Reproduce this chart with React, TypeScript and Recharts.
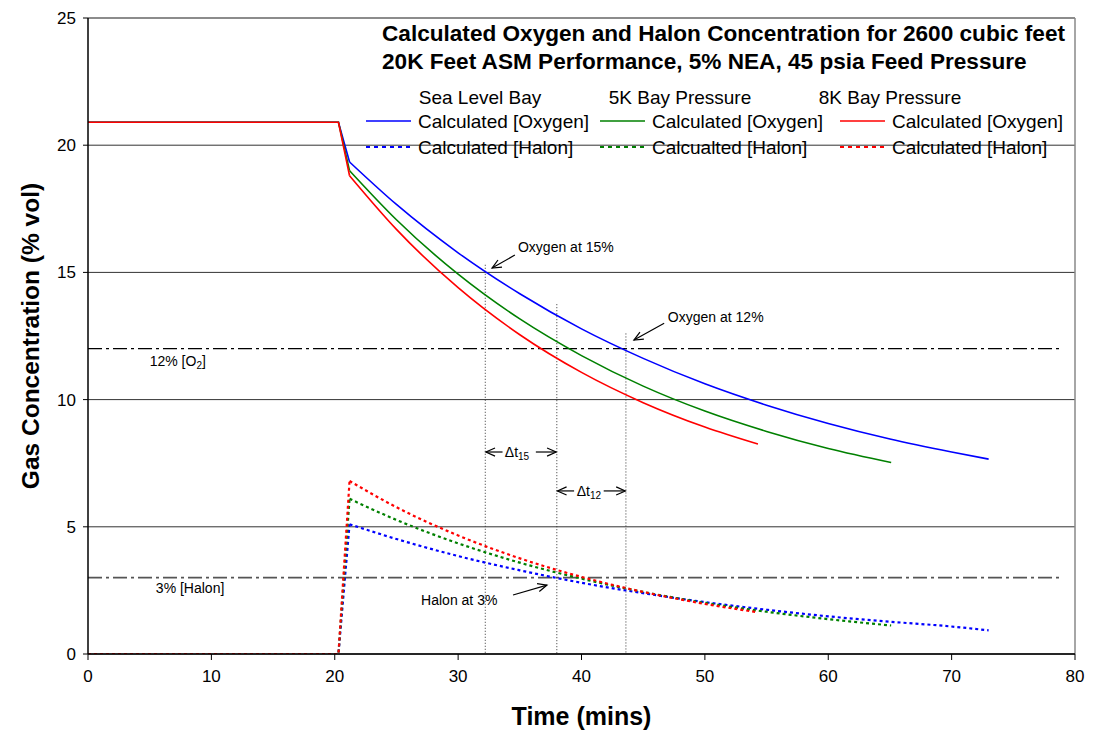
import React from 'react';
import { LineChart, Line, XAxis, YAxis, CartesianGrid, ReferenceLine, ReferenceDot } from 'recharts';

const FONT = '"Liberation Sans", Arial, Helvetica, sans-serif';
const BLUE = '#0000FF';
const GREEN = '#008000';
const RED = '#FF0000';

const xTicks = [0, 10, 20, 30, 40, 50, 60, 70, 80];
const yTicks = [0, 5, 10, 15, 20, 25];

// start-up segment (before and during the initial drop)
const riseTimes = [0, 20.3, 21.2];
const seaLevelOxygenRise = [20.9, 20.9, 19.34];
const bay5kOxygenRise = [20.9, 20.9, 19.0];
const bay8kOxygenRise = [20.9, 20.9, 18.8];
const seaLevelHalonRise = [0, 0, 5.1];
const bay5kHalonRise = [0, 0, 6.1];
const bay8kHalonRise = [0, 0, 6.8];

// decay segment
const seaLevelTimes = [21.2, 25, 30, 35, 40, 45, 50, 55, 60, 65, 70, 73];
const seaLevelOxygen = [19.34, 17.67, 15.77, 14.16, 12.78, 11.62, 10.62, 9.78, 9.06, 8.45, 7.94, 7.66];
const seaLevelHalon = [5.1, 4.52, 3.85, 3.29, 2.8, 2.39, 2.04, 1.74, 1.48, 1.27, 1.08, 0.93];

const bay5kTimes = [21.2, 25, 30, 35, 40, 45, 50, 55, 60, 65.1];
const bay5kOxygen = [19.0, 17.07, 14.93, 13.17, 11.73, 10.53, 9.55, 8.75, 8.08, 7.53];
const bay5kHalon = [6.1, 5.27, 4.35, 3.59, 2.96, 2.44, 2.01, 1.66, 1.37, 1.12];

const bay8kTimes = [21.2, 25, 30, 35, 40, 45, 50, 54.3];
const bay8kOxygen = [18.8, 16.69, 14.4, 12.55, 11.07, 9.88, 8.92, 8.25];
const bay8kHalon = [6.8, 5.77, 4.66, 3.76, 3.03, 2.44, 1.97, 1.64];

// threshold levels and crossing times
const oxygenLimit = 12;
const halonLimit = 3;
const crossing15Time = 32.2;
const crossing15Top = 15.3;
const halonCrossTime = 38;
const halonCrossTop = 13.75;
const crossing12Time = 43.6;
const crossing12Top = 12.6;

const pts = (times: number[], values: number[]) => times.map((t, i) => ({ t, v: values[i] }));

const seriesList = [
  { key: 'slO2r', data: pts(riseTimes, seaLevelOxygenRise), color: BLUE, dash: undefined, type: 'linear' },
  { key: 'slO2', data: pts(seaLevelTimes, seaLevelOxygen), color: BLUE, dash: undefined, type: 'monotone' },
  { key: 'slHr', data: pts(riseTimes, seaLevelHalonRise), color: BLUE, dash: '3 3', type: 'linear' },
  { key: 'slH', data: pts(seaLevelTimes, seaLevelHalon), color: BLUE, dash: '3 3', type: 'monotone' },
  { key: 'k5O2r', data: pts(riseTimes, bay5kOxygenRise), color: GREEN, dash: undefined, type: 'linear' },
  { key: 'k5O2', data: pts(bay5kTimes, bay5kOxygen), color: GREEN, dash: undefined, type: 'monotone' },
  { key: 'k5Hr', data: pts(riseTimes, bay5kHalonRise), color: GREEN, dash: '3 3', type: 'linear' },
  { key: 'k5H', data: pts(bay5kTimes, bay5kHalon), color: GREEN, dash: '3 3', type: 'monotone' },
  { key: 'k8O2r', data: pts(riseTimes, bay8kOxygenRise), color: RED, dash: undefined, type: 'linear' },
  { key: 'k8O2', data: pts(bay8kTimes, bay8kOxygen), color: RED, dash: undefined, type: 'monotone' },
  { key: 'k8Hr', data: pts(riseTimes, bay8kHalonRise), color: RED, dash: '3 3', type: 'linear' },
  { key: 'k8H', data: pts(bay8kTimes, bay8kHalon), color: RED, dash: '3 3', type: 'monotone' },
];

const Arrow = (props: any) => {
  const { x1, y1, x2, y2 } = props;
  const ang = Math.atan2(y2 - y1, x2 - x1);
  const len = 10;
  const spread = 0.42;
  const ax = x2 - len * Math.cos(ang - spread);
  const ay = y2 - len * Math.sin(ang - spread);
  const bx = x2 - len * Math.cos(ang + spread);
  const by = y2 - len * Math.sin(ang + spread);
  return (
    <g>
      <line x1={x1} y1={y1} x2={x2} y2={y2} stroke="#000" strokeWidth={1.2} />
      <polyline points={`${ax},${ay} ${x2},${y2} ${bx},${by}`} fill="none" stroke="#000" strokeWidth={1.2} />
    </g>
  );
};

const arrows = [
  { from: { x: 34.6, y: 15.68 }, to: { x: 32.75, y: 15.17 } },
  { from: { x: 46.7, y: 13.0 }, to: { x: 44.25, y: 12.34 } },
  { from: { x: 34.45, y: 2.32 }, to: { x: 37.2, y: 2.71 } },
  { from: { x: 33.6, y: 7.94 }, to: { x: 32.25, y: 7.94 } },
  { from: { x: 36.3, y: 7.94 }, to: { x: 37.95, y: 7.94 } },
  { from: { x: 39.4, y: 6.41 }, to: { x: 38.05, y: 6.41 } },
  { from: { x: 41.8, y: 6.41 }, to: { x: 43.55, y: 6.41 } },
];

const textStyle = { fontFamily: FONT, fontSize: 14, fill: '#000' };

const notes: { x: number; y: number; render: (cx: number, cy: number) => React.ReactNode }[] = [
  {
    x: 34.85, y: 15.98,
    render: (cx, cy) => <text x={cx} y={cy} dominantBaseline="central" style={textStyle}>Oxygen at 15%</text>,
  },
  {
    x: 47.0, y: 13.25,
    render: (cx, cy) => <text x={cx} y={cy} dominantBaseline="central" style={textStyle}>Oxygen at 12%</text>,
  },
  {
    x: 27.0, y: 2.12,
    render: (cx, cy) => <text x={cx} y={cy} dominantBaseline="central" style={textStyle}>Halon at 3%</text>,
  },
  {
    x: 5.0, y: 11.52,
    render: (cx, cy) => (
      <text x={cx} y={cy} dominantBaseline="central" style={textStyle}>
        12% [O<tspan dy={4} fontSize={10}>2</tspan><tspan dy={-4}>]</tspan>
      </text>
    ),
  },
  {
    x: 5.5, y: 2.6,
    render: (cx, cy) => <text x={cx} y={cy} dominantBaseline="central" style={textStyle}>3% [Halon]</text>,
  },
  {
    x: 34.77, y: 7.94,
    render: (cx, cy) => (
      <text x={cx} y={cy} textAnchor="middle" dominantBaseline="central" style={textStyle}>
        Δt<tspan dy={4} fontSize={10}>15</tspan>
      </text>
    ),
  },
  {
    x: 40.6, y: 6.41,
    render: (cx, cy) => (
      <text x={cx} y={cy} textAnchor="middle" dominantBaseline="central" style={textStyle}>
        Δt<tspan dy={4} fontSize={10}>12</tspan>
      </text>
    ),
  },
];

const legendColumns = [
  { header: 'Sea Level Bay', oxygen: 'Calculated [Oxygen]', halon: 'Calculated [Halon]', color: BLUE },
  { header: '5K Bay Pressure', oxygen: 'Calculated [Oxygen]', halon: 'Calcualted [Halon]', color: GREEN },
  { header: '8K Bay Pressure', oxygen: 'Calculated [Oxygen]', halon: 'Calculated [Halon]', color: RED },
];
const legendColumnX = [366, 600, 840];
const legendHeaderX = [480, 680, 890];

const titleLines = [
  'Calculated Oxygen and Halon Concentration for 2600 cubic feet',
  '20K Feet ASM Performance, 5% NEA, 45 psia Feed Pressure',
];

const Overlay = () => (
  <svg width={1096} height={730} style={{ position: 'absolute', left: 0, top: 0, pointerEvents: 'none' }}>
    {titleLines.map((s, i) => (
      <text key={i} x={382} y={33 + i * 28} dominantBaseline="central"
        style={{ fontFamily: FONT, fontSize: 22.6, fontWeight: 'bold', fill: '#000' }}>{s}</text>
    ))}
    {legendColumns.map((c, i) => (
      <g key={i} style={{ fontFamily: FONT, fontSize: 19, fill: '#000' }}>
        <text x={legendHeaderX[i]} y={97} textAnchor="middle" dominantBaseline="central">{c.header}</text>
        <line x1={legendColumnX[i]} x2={legendColumnX[i] + 45} y1={121} y2={121} stroke={c.color} strokeWidth={1.5} />
        <text x={legendColumnX[i] + 52} y={121} dominantBaseline="central">{c.oxygen}</text>
        <line x1={legendColumnX[i]} x2={legendColumnX[i] + 45} y1={147} y2={147} stroke={c.color} strokeWidth={2} strokeDasharray="4 4" />
        <text x={legendColumnX[i] + 52} y={147} dominantBaseline="central">{c.halon}</text>
      </g>
    ))}
  </svg>
);

export default function App() {
  return (
    <div style={{ position: 'absolute', left: 0, top: 0, width: 1096, height: 730, background: '#fff' }}>
      <LineChart width={1096} height={730} margin={{ top: 18, right: 21, bottom: 36, left: 0 }}>
        <CartesianGrid horizontal vertical={false} stroke="#333" strokeWidth={1} />
        <XAxis
          type="number"
          dataKey="t"
          domain={[0, 80]}
          ticks={xTicks}
          allowDataOverflow
          height={40}
          tickSize={6}
          tickMargin={10}
          axisLine={{ stroke: '#000', strokeWidth: 1.5 }}
          tickLine={{ stroke: '#000' }}
          tick={{ fill: '#000', fontSize: 17, fontFamily: FONT }}
          label={{
            content: (p: any) => {
              const vb = p.viewBox || { x: 88, y: 654, width: 987, height: 40 };
              return (
                <text x={vb.x + vb.width / 2} y={vb.y + 71} textAnchor="middle"
                  style={{ fontFamily: FONT, fontSize: 25, fontWeight: 'bold', fill: '#000' }}>Time (mins)</text>
              );
            },
          }}
        />
        <YAxis
          type="number"
          domain={[0, 25]}
          ticks={yTicks}
          allowDataOverflow
          width={88}
          tickSize={5}
          tickMargin={7}
          axisLine={{ stroke: '#000', strokeWidth: 1.5 }}
          tickLine={{ stroke: '#000' }}
          tick={{ fill: '#000', fontSize: 17, fontFamily: FONT }}
          label={{
            content: (p: any) => {
              const vb = p.viewBox || { x: 0, y: 18, width: 88, height: 636 };
              const cx = vb.x + 30;
              const cy = vb.y + vb.height / 2;
              return (
                <text x={cx} y={cy} transform={`rotate(-90, ${cx}, ${cy})`} textAnchor="middle" dominantBaseline="central"
                  style={{ fontFamily: FONT, fontSize: 24.5, fontWeight: 'bold', fill: '#000' }}>Gas Concentration (% vol)</text>
              );
            },
          }}
        />
        <ReferenceLine y={25} stroke="#888" strokeWidth={1.5} />
        <ReferenceLine x={80} stroke="#888" strokeWidth={1.5} />
        <ReferenceLine segment={[{ x: 0, y: oxygenLimit }, { x: 79, y: oxygenLimit }]} stroke="#000" strokeWidth={1.2} strokeDasharray="14 4 3 4" />
        <ReferenceLine segment={[{ x: 0, y: halonLimit }, { x: 79, y: halonLimit }]} stroke="#555" strokeWidth={1.8} strokeDasharray="14 4 3 4" />
        <ReferenceLine segment={[{ x: crossing15Time, y: crossing15Top }, { x: crossing15Time, y: 0 }]} stroke="#333" strokeWidth={1} strokeDasharray="1 2" />
        <ReferenceLine segment={[{ x: halonCrossTime, y: halonCrossTop }, { x: halonCrossTime, y: 0 }]} stroke="#333" strokeWidth={1} strokeDasharray="1 2" />
        <ReferenceLine segment={[{ x: crossing12Time, y: crossing12Top }, { x: crossing12Time, y: 0 }]} stroke="#333" strokeWidth={1} strokeDasharray="1 2" />
        {seriesList.map((s) => (
          <Line
            key={s.key}
            data={s.data}
            dataKey="v"
            type={s.type as any}
            stroke={s.color}
            strokeWidth={s.dash ? 2.2 : 1.6}
            strokeDasharray={s.dash}
            dot={false}
            activeDot={false}
            isAnimationActive={false}
          />
        ))}
        {arrows.map((a, i) => (
          <ReferenceLine key={`a${i}`} segment={[a.from, a.to]} shape={Arrow} ifOverflow="visible" />
        ))}
        {notes.map((n, i) => (
          <ReferenceDot key={`n${i}`} x={n.x} y={n.y} r={1} ifOverflow="visible"
            shape={(p: any) => <g>{n.render(p.cx, p.cy)}</g>} />
        ))}
      </LineChart>
      <Overlay />
    </div>
  );
}
